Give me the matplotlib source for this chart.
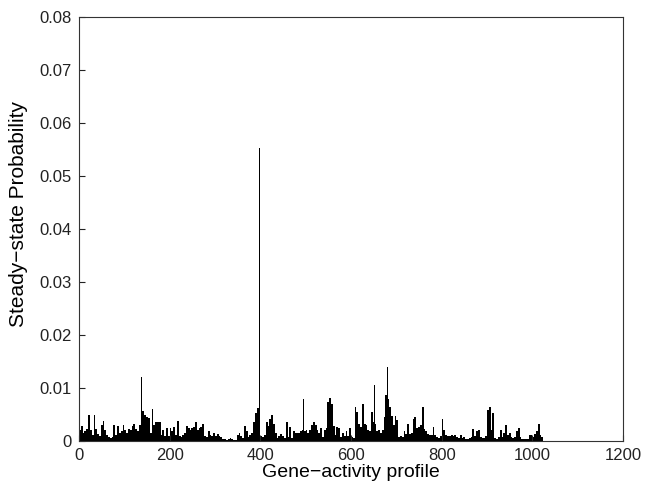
import matplotlib
matplotlib.use("Agg")
import matplotlib.pyplot as plt
import numpy as np

# Steady-state probability, aggregated over consecutive groups of 4 gene-activity profiles
group_size = 4
group_values = [
    # profiles 0-175
    0.0020, 0.0028, 0.0015, 0.0018, 0.0022, 0.0049, 0.0020, 0.0012, 0.0050, 0.0022,
    0.0014, 0.0010, 0.0030, 0.0038, 0.0020, 0.0012, 0.0008, 0.0005, 0.0007, 0.0030,
    0.0012, 0.0028, 0.0015, 0.0018, 0.0030, 0.0020, 0.0016, 0.0022, 0.0020, 0.0028,
    0.0033, 0.0022, 0.0018, 0.0030, 0.0030, 0.0057, 0.0049, 0.0045, 0.0044, 0.0015,
    0.0060, 0.0030, 0.0035, 0.0035,
    # profiles 176-351
    0.0035, 0.0012, 0.0020, 0.0010, 0.0024, 0.0010, 0.0024, 0.0018, 0.0027, 0.0012,
    0.0038, 0.0010, 0.0008, 0.0012, 0.0015, 0.0029, 0.0025, 0.0020, 0.0024, 0.0027,
    0.0035, 0.0020, 0.0024, 0.0027, 0.0032, 0.0010, 0.0008, 0.0019, 0.0012, 0.0010,
    0.0015, 0.0010, 0.0014, 0.0010, 0.0008, 0.0004, 0.0003, 0.0002, 0.0003, 0.0005,
    0.0003, 0.0001, 0.0002, 0.0012,
    # profiles 352-527
    0.0015, 0.0010, 0.0005, 0.0028, 0.0018, 0.0008, 0.0012, 0.0015, 0.0036, 0.0052,
    0.0063, 0.0020, 0.0010, 0.0008, 0.0012, 0.0035, 0.0028, 0.0042, 0.0049, 0.0033,
    0.0015, 0.0005, 0.0010, 0.0013, 0.0010, 0.0006, 0.0036, 0.0008, 0.0027, 0.0005,
    0.0018, 0.0015, 0.0016, 0.0015, 0.0018, 0.0021, 0.0018, 0.0021, 0.0015, 0.0021,
    0.0030, 0.0035, 0.0030, 0.0020,
    # profiles 528-703
    0.0015, 0.0024, 0.0008, 0.0020, 0.0025, 0.0074, 0.0082, 0.0070, 0.0028, 0.0012,
    0.0027, 0.0024, 0.0008, 0.0015, 0.0010, 0.0018, 0.0010, 0.0025, 0.0008, 0.0005,
    0.0065, 0.0055, 0.0033, 0.0027, 0.0070, 0.0033, 0.0030, 0.0020, 0.0018, 0.0054,
    0.0035, 0.0033, 0.0018, 0.0020, 0.0015, 0.0020, 0.0045, 0.0086, 0.0080, 0.0065,
    0.0048, 0.0030, 0.0048, 0.0040,
    # profiles 704-879
    0.0008, 0.0010, 0.0008, 0.0018, 0.0014, 0.0033, 0.0014, 0.0015, 0.0042, 0.0046,
    0.0024, 0.0027, 0.0030, 0.0065, 0.0022, 0.0018, 0.0014, 0.0011, 0.0012, 0.0027,
    0.0012, 0.0008, 0.0005, 0.0010, 0.0042, 0.0020, 0.0012, 0.0009, 0.0010, 0.0012,
    0.0009, 0.0012, 0.0007, 0.0005, 0.0012, 0.0005, 0.0008, 0.0004, 0.0003, 0.0005,
    0.0008, 0.0022, 0.0010, 0.0018,
    # profiles 880-1023
    0.0020, 0.0008, 0.0005, 0.0005, 0.0010, 0.0058, 0.0065, 0.0020, 0.0052, 0.0005,
    0.0004, 0.0008, 0.0020, 0.0008, 0.0015, 0.0030, 0.0012, 0.0015, 0.0008, 0.0005,
    0.0008, 0.0018, 0.0025, 0.0008, 0.0003, 0.0003, 0.0004, 0.0003, 0.0011, 0.0011,
    0.0008, 0.0014, 0.0018, 0.0032, 0.0012, 0.0008,
]

# Single profiles that stand out as thin peaks
peak_profiles = [138, 398, 496, 547, 651, 675, 681]
peak_values = [0.0120, 0.0553, 0.0079, 0.0137, 0.0105, 0.0125, 0.0140]

x_ticks = [0, 200, 400, 600, 800, 1000, 1200]
y_ticks = [0, 0.01, 0.02, 0.03, 0.04, 0.05, 0.06, 0.07, 0.08]

plt.rcParams['font.family'] = ['Liberation Sans', 'DejaVu Sans']

fig = plt.figure(figsize=(6.61, 4.87), dpi=100)
ax = fig.add_axes([79 / 661, 46 / 487, 544 / 661, 424 / 487])

group_left = np.arange(len(group_values)) * group_size
ax.bar(group_left, group_values, width=group_size, align='edge',
       color='black', edgecolor='none', linewidth=0)
ax.bar(peak_profiles, peak_values, width=2.0, align='center',
       color='black', edgecolor='none', linewidth=0)

ax.set_xlim(0, 1200)
ax.set_ylim(0, 0.08)
ax.set_xticks(x_ticks)
ax.set_yticks(y_ticks)
ax.set_xticklabels([str(t) for t in x_ticks])
ax.set_yticklabels(['0'] + [f'{t:.2f}' for t in y_ticks[1:]])

ax.tick_params(direction='in', length=4, width=0.8, labelsize=12,
               colors='#222222', top=False, right=False)
ax.tick_params(axis='y', pad=5)
ax.tick_params(axis='x', pad=5)
for s in ax.spines.values():
    s.set_color('#333333')
    s.set_linewidth(0.8)

ax.set_xlabel('Gene\u2212activity profile', fontsize=14, labelpad=1)
ax.set_ylabel('Steady\u2212state Probability', fontsize=15)
ax.yaxis.set_label_coords(-0.093, 0.535)

fig.savefig('out.png', dpi=100)
